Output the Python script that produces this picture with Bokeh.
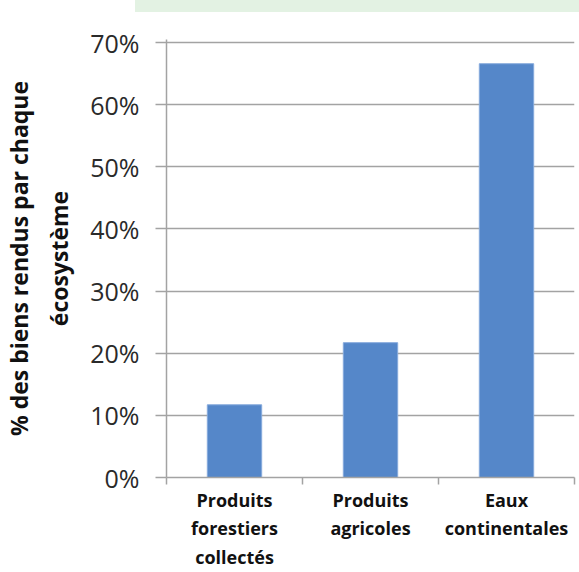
from bokeh.plotting import figure
from bokeh.models import Range1d, LinearAxis, FixedTicker, NumeralTickFormatter, Div
from bokeh.layouts import column
from bokeh.embed import file_html
from bokeh.resources import INLINE

# Share of goods provided by each ecosystem
categories = ["Produits\nforestiers\ncollectés", "Produits\nagricoles", "Eaux\ncontinentales"]
shares = [0.117, 0.217, 0.666]
y_ticks = [0.0, 0.1, 0.2, 0.3, 0.4, 0.5, 0.6, 0.7]

BAR = "#5587C9"
GRID = "#A3A3A3"
FONT = "Open Sans"

centers = [i + 0.5 for i in range(len(categories))]
bounds = list(range(len(categories) + 1))

# pale green strip along the top edge
strip = Div(text="", width=444, height=12, margin=(0, 0, 0, 135),
            styles={"background-color": "#E3F2E3"})

p = figure(
    width=579, height=560,
    x_range=Range1d(0, len(categories)),
    y_range=Range1d(0, 0.705),
    output_backend="svg", toolbar_location=None,
    x_axis_location=None, y_axis_location=None,
    min_border_left=5, min_border_right=5, min_border_top=27, min_border_bottom=5,
)
p.outline_line_color = None
p.background_fill_color = "white"
p.border_fill_color = "white"

p.vbar(x=centers, top=shares, width=0.4, fill_color=BAR, line_color="#86AADC", line_width=1)

# value axis
yax = LinearAxis(ticker=FixedTicker(ticks=y_ticks), formatter=NumeralTickFormatter(format="0%"))
yax.axis_label = "% des biens rendus par chaque\nécosystème"
yax.axis_label_text_font = FONT
yax.axis_label_text_font_style = "bold"
yax.axis_label_text_font_size = "23px"
yax.axis_label_text_color = "#111111"
yax.axis_label_text_line_height = 1.25
yax.axis_label_standoff = 12
yax.major_label_text_font = FONT
yax.major_label_text_font_size = "25px"
yax.major_label_text_color = "#2a2a2a"
yax.major_label_standoff = 16
yax.major_tick_out = 11
yax.major_tick_in = 0
yax.major_tick_line_color = GRID
yax.major_tick_line_width = 1.5
yax.minor_tick_line_color = None
yax.axis_line_color = GRID
yax.axis_line_width = 1.5
p.add_layout(yax, "left")

# category names, with boundary marks as minor ticks
cax = LinearAxis(ticker=FixedTicker(ticks=centers, minor_ticks=bounds))
cax.major_label_overrides = {c: name for c, name in zip(centers, categories)}
cax.major_label_text_font = FONT
cax.major_label_text_font_style = "bold"
cax.major_label_text_font_size = "18px"
cax.major_label_text_color = "#111111"
cax.major_label_text_line_height = 1.2
cax.major_label_standoff = 3
cax.major_tick_out = 7
cax.major_tick_in = 0
cax.major_tick_line_color = None
cax.minor_tick_out = 7
cax.minor_tick_in = 0
cax.minor_tick_line_color = GRID
cax.minor_tick_line_width = 1.5
cax.axis_line_color = GRID
cax.axis_line_width = 1.5
p.add_layout(cax, "below")

p.ygrid.ticker = FixedTicker(ticks=y_ticks)
p.ygrid.grid_line_color = GRID
p.ygrid.grid_line_width = 1.5
p.xgrid.grid_line_color = None

layout = column(strip, p, spacing=0)
open("out.html", "w").write(file_html(layout, INLINE))
